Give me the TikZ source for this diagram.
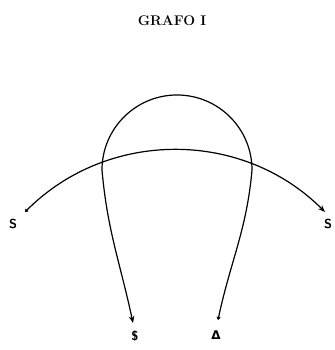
\documentclass[tikz,border=0pt]{standalone}
\usepackage{fontspec}
\newfontfamily\dvsans{DejaVu Sans}
\usetikzlibrary{arrows.meta}
\begin{document}
\begin{tikzpicture}[x=1pt,y=1pt,
  conn/.style={line width=1.2pt,{Triangle[length=3pt,width=4pt]}-{Stealth[length=7pt,width=5.5pt]}},
  lab/.style={font=\fontsize{13}{15}\selectfont\sffamily\bfseries,inner sep=0pt},
  ttl/.style={font=\fontsize{14}{16}\selectfont\bfseries,inner sep=0pt}]
\useasboundingbox (0,0) rectangle (334,350);
\node[ttl] (title) at (172,329) {GRAFO I};
\coordinate (a1) at (25,138);
\coordinate (a2) at (325,138);
\coordinate (b1) at (218,30);
\coordinate (r) at (252,180);
\coordinate (b2) at (133,27);
\node[lab] (sL) at (13,126) {S};
\node[lab] (sR) at (328,126) {S};
\node[lab] (dol) at (135,14) {\$};
\node[lab] (del) at (216,15) {\dvsans\fontsize{12}{14}\selectfont Δ};
\draw[conn] (a1) to[out=45,in=135] (a2);
\draw[conn] (b1) to[out=78,in=-95] (r) arc[start angle=0,end angle=180,radius=75] to[out=-85,in=102] (b2);
\end{tikzpicture}
\end{document}
